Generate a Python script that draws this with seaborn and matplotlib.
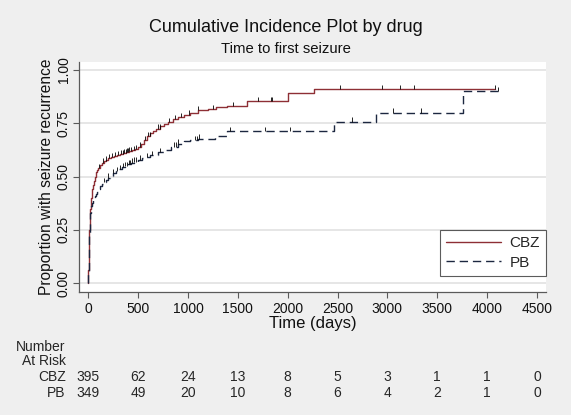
import numpy as np
import seaborn as sns
import matplotlib.pyplot as plt
import matplotlib.transforms as mtransforms

# step points of the cumulative incidence curves (days, proportion)
cbz_time = [0, 2, 4, 6, 8, 10, 14, 18, 22, 26, 30, 35, 40, 50, 60, 70, 80, 90, 100, 120,
            140, 160, 180, 200, 230, 260, 290, 320, 350, 380, 410, 440, 470, 500, 530, 560,
            590, 620, 650, 680, 720, 760, 800, 850, 900, 960, 1020, 1100, 1200, 1280, 1390,
            1590, 2000, 2260]
cbz_cum = [0, .06, .12, .17, .21, .25, .29, .32, .35, .38, .40, .42, .44, .46, .48, .50, .52,
           .53, .54, .555, .565, .575, .58, .585, .59, .595, .60, .605, .61, .615, .62, .625,
           .63, .64, .655, .67, .69, .705, .715, .725, .735, .745, .755, .77, .78, .79, .80,
           .81, .815, .825, .83, .855, .893, .91]
cbz_end = 4076

pb_time = [0, 2, 4, 6, 8, 10, 14, 18, 22, 26, 30, 40, 50, 60, 70, 80, 90, 100, 120, 140,
           160, 180, 200, 220, 250, 280, 310, 340, 370, 400, 430, 460, 500, 540, 580, 620,
           700, 760, 830, 900, 960, 1020, 1100, 1270, 1390, 2460, 2890, 3755]
pb_cum = [0, .05, .10, .15, .19, .23, .27, .30, .33, .35, .36, .375, .39, .40, .41, .42, .43,
          .44, .455, .465, .475, .485, .495, .505, .515, .525, .535, .545, .55, .56, .565,
          .57, .58, .585, .59, .60, .615, .625, .64, .655, .665, .672, .678, .688, .713,
          .757, .80, .90]
pb_end = 4106

# censoring times
cbz_cens = [110, 150, 175, 205, 240, 270, 300, 330, 345, 360, 375, 385, 395, 410, 430, 455,
            480, 520, 570, 600, 615, 700, 715, 810, 870, 930, 1010, 1100, 1250, 1450, 1700,
            1830, 1845, 2525, 2950, 3130, 3265, 4076]
pb_cens = [160, 200, 250, 290, 320, 350, 370, 390, 410, 420, 440, 460, 480, 520, 590, 640,
           720, 860, 880, 900, 1070, 1090, 1110, 1420, 1775, 2020, 2650, 3055, 3340, 4106]

# number at risk table
risk_times = [0, 500, 1000, 1500, 2000, 2500, 3000, 3500, 4000, 4500]
cbz_risk = [395, 62, 24, 13, 8, 5, 3, 1, 1, 0]
pb_risk = [349, 49, 20, 10, 8, 6, 4, 2, 1, 0]

BG = '#efefef'
CBZ_COL = '#8e2f35'
PB_COL = '#1c2740'

sns.set_style('white')
plt.rcParams['font.family'] = ['Liberation Sans', 'DejaVu Sans']

fig = plt.figure(figsize=(5.71, 4.15), dpi=100, facecolor=BG)
ax = fig.add_axes([79 / 571, 1 - 292 / 415, 467 / 571, 230 / 415])
ax.set_facecolor('white')


def step_value(times, cums, t):
    idx = np.searchsorted(times, t, side='right') - 1
    return cums[idx]


for times, cums, end, cens, col, lab, dash in [
        (cbz_time, cbz_cum, cbz_end, cbz_cens, CBZ_COL, 'CBZ', ''),
        (pb_time, pb_cum, pb_end, pb_cens, PB_COL, 'PB', (6, 3.5))]:
    xs = list(times) + [end]
    ys = list(cums) + [cums[-1]]
    sns.lineplot(x=xs, y=ys, ax=ax, color=col, linewidth=1.0, label=lab,
                 drawstyle='steps-post', estimator=None, sort=False)
    if dash:
        ax.lines[-1].set_dashes(dash)
    cy = np.array([step_value(times, cums, t) for t in cens])
    ax.vlines(cens, cy, cy + 0.02, color='black', linewidth=0.6)

ax.set_xlim(-93, 4591)
ax.set_ylim(-0.041, 1.037)
ax.set_xticks(risk_times)
ax.set_yticks([0, 0.25, 0.5, 0.75, 1.0])
ax.set_yticklabels(['0.00', '0.25', '0.50', '0.75', '1.00'], rotation=90, va='center')
ax.yaxis.grid(True, color='#e2e2e2', linewidth=1.2)
ax.xaxis.grid(False)
ax.set_axisbelow(True)
for s in ['top', 'right']:
    ax.spines[s].set_visible(False)
for s in ['left', 'bottom']:
    ax.spines[s].set_color('#5a5a5a')
    ax.spines[s].set_linewidth(0.9)
ax.tick_params(axis='both', direction='out', length=4, width=0.8, color='#5a5a5a',
               labelsize=10, labelcolor='#111111', bottom=True, left=True)
ax.tick_params(axis='x', pad=3)
ax.tick_params(axis='y', pad=2)

ax.set_xlabel('Time (days)', fontsize=12, labelpad=0.5, color='#111111')
ax.set_ylabel('Proportion with seizure recurrence', fontsize=11.2, labelpad=2,
              color='#111111')

leg = ax.legend(loc='lower right', bbox_to_anchor=(1.0, 0.07), fontsize=11,
                frameon=True, fancybox=False, edgecolor='#333333', borderaxespad=0,
                handlelength=3.6, handletextpad=0.55, borderpad=0.4, labelspacing=0.35)
leg.get_frame().set_linewidth(0.8)

fig.text(0.5, 1 - 27.7 / 415, 'Cumulative Incidence Plot by drug', ha='center',
         va='center', fontsize=13, color='#111111')
fig.text(0.5, 1 - 49.3 / 415, 'Time to first seizure', ha='center', va='center',
         fontsize=10.7, color='#111111')

# number at risk table
trans = mtransforms.blended_transform_factory(ax.transData, fig.transFigure)
lab_x = 65.7 / 571
fig.text(lab_x, 1 - 346.5 / 415, 'Number', ha='right', va='center', fontsize=10)
fig.text(lab_x, 1 - 361 / 415, 'At Risk', ha='right', va='center', fontsize=10)
for row_y, name, counts in [(1 - 377 / 415, 'CBZ', cbz_risk), (1 - 393 / 415, 'PB', pb_risk)]:
    fig.text(lab_x, row_y, name, ha='right', va='center', fontsize=10)
    for t, n in zip(risk_times, counts):
        ax.text(t, row_y, str(n), transform=trans, ha='center', va='center', fontsize=10)

fig.savefig('out.png', dpi=100, facecolor=BG)
